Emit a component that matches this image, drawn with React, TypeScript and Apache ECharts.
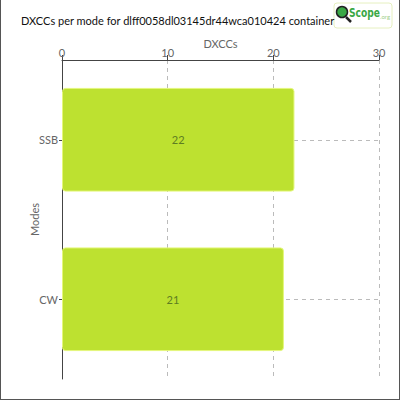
import React, { useEffect, useRef } from 'react'
import * as echarts from 'echarts'

const modes = ['SSB', 'CW']
const dxccCounts = [22, 21]
const valueTicks = { min: 0, max: 30, interval: 10 }

const FONT = 'Lato'

const App: React.FC = () => {
  const chartRef = useRef<HTMLDivElement>(null)

  useEffect(() => {
    document.body.style.margin = '0'
    if (!chartRef.current) return
    const chart = echarts.init(chartRef.current, undefined, { renderer: 'svg' })

    const option: echarts.EChartsOption = {
      animation: false,
      textStyle: { fontFamily: FONT },
      title: {
        text: 'DXCCs per mode for dlff0058dl03145dr44wca010424 container',
        left: 15,
        top: 10,
        textStyle: { fontSize: 11, fontWeight: 'normal', color: '#111', fontFamily: FONT }
      },
      grid: { left: 61, right: 20, top: 60, bottom: 20 },
      xAxis: {
        type: 'value',
        position: 'top',
        min: valueTicks.min,
        max: valueTicks.max,
        interval: valueTicks.interval,
        name: 'DXCCs',
        nameLocation: 'middle',
        nameGap: 11,
        nameMoveOverlap: false,
        nameTextStyle: { color: '#666', fontSize: 11 },
        axisLine: { show: true, lineStyle: { color: '#444' } },
        axisTick: { show: true, length: 5, lineStyle: { color: '#444' } },
        axisLabel: { color: '#666', fontSize: 11, margin: 2 },
        splitLine: { show: true, lineStyle: { color: '#bbb', type: [4, 4] } }
      } as any,
      yAxis: {
        type: 'category',
        data: modes,
        inverse: true,
        name: 'Modes',
        nameLocation: 'middle',
        nameGap: 22,
        nameMoveOverlap: false,
        nameTextStyle: { color: '#666', fontSize: 11 },
        axisLine: { show: true, lineStyle: { color: '#444' } },
        axisTick: { show: true, length: 3, alignWithLabel: true, lineStyle: { color: '#444' } },
        axisLabel: { color: '#666', fontSize: 11, margin: 4 },
        splitLine: { show: true, alignWithLabel: true, lineStyle: { color: '#bbb', type: [4, 4] } }
      } as any,
      series: [
        {
          type: 'bar',
          data: dxccCounts,
          barCategoryGap: '35%',
          itemStyle: {
            color: '#bde130',
            borderColor: '#e4f77c',
            borderWidth: 1,
            borderRadius: 3
          },
          label: {
            show: true,
            position: 'inside',
            color: '#5e7d22',
            fontSize: 11,
            fontFamily: FONT
          }
        }
      ],
      graphic: [
        {
          type: 'rect',
          shape: { x: 333, y: 3, width: 58, height: 25, r: 3 },
          style: { fill: '#fff', stroke: '#e6f0c0', lineWidth: 1 }
        },
        {
          type: 'line',
          shape: { x1: 345, y1: 17, x2: 350, y2: 22 },
          style: { stroke: '#222', lineWidth: 2.5 }
        },
        {
          type: 'circle',
          shape: { cx: 341, cy: 12, r: 5.5 },
          style: { fill: '#3aa845', stroke: '#222', lineWidth: 1.5 }
        },
        {
          type: 'text',
          x: 348,
          y: 13,
          scaleX: 0.78,
          style: {
            text: 'Scope',
            fill: '#3aa845',
            fontSize: 13,
            fontWeight: 'bold',
            fontFamily: 'DejaVu Sans Condensed',
            verticalAlign: 'middle'
          }
        },
        {
          type: 'text',
          x: 379,
          y: 16,
          style: { text: '.org', fill: '#9fd08a', fontSize: 6, fontFamily: FONT, verticalAlign: 'middle' }
        }
      ]
    }

    chart.setOption(option)
    return () => chart.dispose()
  }, [])

  return (
    <div
      style={{
        width: 400,
        height: 400,
        boxSizing: 'border-box',
        borderLeft: '1px solid #555',
        borderRight: '1px solid #555',
        borderBottom: '1px solid #555'
      }}
    >
      <div ref={chartRef} style={{ width: 398, height: 399 }} />
    </div>
  )
}

export default App
